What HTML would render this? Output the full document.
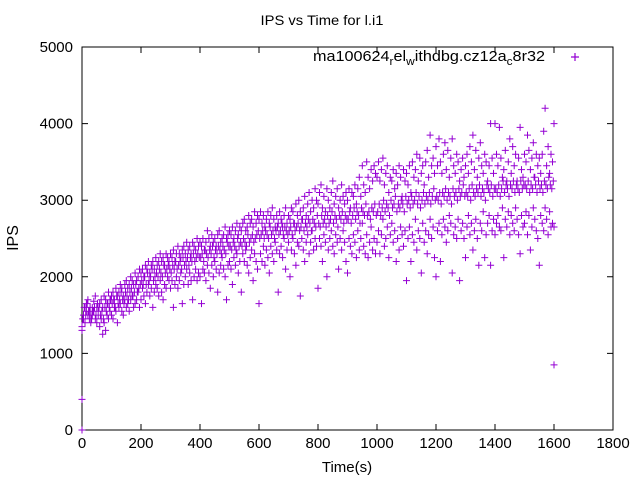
<!DOCTYPE html>
<html><head><meta charset="utf-8"><style>
body{margin:0;background:#fff;}
svg{display:block;font-family:"Liberation Sans",sans-serif;}
</style></head><body>
<svg id="chart" width="640" height="480" viewBox="0 0 640 480" xmlns="http://www.w3.org/2000/svg">
<rect width="640" height="480" fill="#fff"/>
<text x="322" y="25" text-anchor="middle" font-size="14" textLength="123" lengthAdjust="spacingAndGlyphs">IPS vs Time for l.i1</text>
<text transform="translate(18,238) rotate(-90)" text-anchor="middle" font-size="16">IPS</text>
<text x="347" y="472" text-anchor="middle" font-size="15">Time(s)</text>
<g id="axes"></g>
<g id="points"></g>
<g>
<text x="313" y="61" font-size="15" textLength="232" lengthAdjust="spacingAndGlyphs">ma100624<tspan font-size="11" dy="4">r</tspan><tspan dy="-4">el</tspan><tspan font-size="11" dy="4">w</tspan><tspan dy="-4">ithdbg.cz12a</tspan><tspan font-size="11" dy="4">c</tspan><tspan dy="-4">8r32</tspan></text>
<path d="M571,57h8M575,53v8" stroke="#9400d3" stroke-width="1.2"/>
</g>
</svg>
<script>
const xTicks=[0,200,400,600,800,1000,1200,1400,1600,1800];
const yTicks=[0,1000,2000,3000,4000,5000];
const sampleStep=5;
const ipsUpper=[1300,1450,1600,1650,1700,1550,1500,1600,1680,1750,1600,1550,1650,1700,1600,1750,1700,1650,1800,1700,
1750,1800,1700,1850,1750,1800,1900,1850,1750,1900,1950,1850,1900,2000,1950,1900,2050,1950,2000,2100,
2050,2100,2000,2150,2100,2200,2050,2150,2200,2100,2250,2150,2200,2300,2200,2250,2150,2300,2250,2200,
2300,2250,2350,2200,2300,2400,2300,2250,2350,2400,2300,2450,2350,2400,2300,2450,2400,2350,2500,2400,
2450,2400,2500,2350,2450,2600,2500,2400,2550,2450,2500,2400,2550,2600,2450,2500,2550,2650,2500,2550,
2600,2550,2650,2500,2600,2700,2550,2650,2600,2700,2750,2600,2650,2800,2700,2750,2650,2850,2700,2800,
2750,2850,2700,2800,2650,2750,2850,2700,2800,2900,2750,2650,2800,2700,2850,2750,2650,2800,2900,2700,
2800,2750,2900,2850,2700,2950,2800,3000,2850,2750,2900,3050,2800,2950,3100,2850,3000,2900,3150,3000,
2950,3100,3200,2900,3050,2850,3150,3000,2900,3100,3250,2950,3050,3150,2900,3000,3200,3050,2950,3100,
3000,3150,2900,3100,3050,3200,2950,3150,3300,3050,3450,3200,3100,3500,3300,3150,3400,3250,3450,3350,
3300,3500,3250,3400,3550,3200,3350,3450,3100,3300,3250,3400,3150,3350,3200,3450,3300,3050,3400,3250,
3350,3200,3450,3100,3500,3300,3400,3600,3250,3550,3350,3450,3200,3500,3650,3300,3850,3450,3550,3350,
3700,3450,3800,3500,3350,3600,3750,3400,3650,3300,3550,3800,3450,3350,3600,3500,3250,3400,3550,3300,
3450,3600,3350,3700,3500,3850,3400,3650,3300,3550,3750,3450,3350,3600,3500,3250,3450,4000,3550,3350,
4000,3600,3450,3950,3550,3300,3400,3650,3250,3500,3800,3350,3700,3450,3600,3250,3550,3950,3400,3300,
3600,3500,3850,3650,3400,3550,3750,3300,3600,3450,3550,3350,3600,3900,4200,3450,3700,3350,3600,3500,
4000];
const ipsLower=[1350,1500,1400,1550,1500,1450,1400,1500,1550,1450,1400,1500,1350,1450,1250,1400,1300,1500,1450,1550,
1500,1450,1600,1550,1400,1600,1650,1550,1500,1700,1600,1650,1550,1700,1750,1600,1650,1700,1800,1600,
1700,1850,1750,1650,1800,1900,1750,1850,1600,1800,1900,1850,1750,1950,1800,1700,1900,1850,2000,1950,
1850,1950,1600,1900,2000,1850,1950,2050,1650,1900,2000,2100,1900,2050,1950,1700,2000,2100,1950,2050,
2000,1650,2100,2050,1950,2150,2050,1850,2150,2000,2200,2100,1800,2050,2150,2250,2100,2000,1700,2150,
2200,2100,1900,2250,2150,2300,2050,2200,1800,2300,2200,2350,2150,2050,2250,2350,1950,2300,2200,2100,
1650,2300,2200,2400,2150,2350,2250,2050,2400,2300,2200,2450,2350,1800,2300,2400,2250,2500,2100,2350,
2450,2000,2350,2500,2300,2150,2450,2400,1750,2500,2350,2200,2450,2550,2300,2450,2600,2350,2500,2400,
1850,2500,2400,2200,2550,2450,2000,2350,2500,2600,2400,2300,2550,2450,2100,2500,2350,2600,2450,2200,
2050,2500,2400,2300,2550,2450,2250,2600,2350,2500,2700,2400,2300,2550,2250,2450,2650,2350,2500,2300,
2450,2600,2300,2550,2750,2400,2500,2650,2250,2550,2700,2450,2600,2200,2500,2350,2650,2550,2400,2600,
1950,2500,2650,2200,2550,2450,2750,2350,2600,2500,2050,2700,2450,2600,2300,2550,2750,2500,2650,2250,
2000,2600,2700,2200,2550,2750,2650,2450,2600,2800,2700,2050,2550,2650,2500,2750,1950,2600,2700,2500,
2250,2650,2800,2550,2700,2350,2600,2750,2500,2150,2700,2600,2850,2250,2550,2700,2800,2150,2600,2750,
2550,2700,2800,2650,2600,2900,2250,2750,2650,2850,2550,2800,2700,2600,2900,2750,2550,2300,2800,2650,
2700,2850,2550,2800,2350,2650,2900,2750,2600,2500,2150,2800,2700,2600,2900,2750,2550,2850,2650,2700,
2650];
const ipsMiddle=[1450,1600,1500,1650,1550,1600,1450,1550,1600,1500,1650,1600,1500,1550,1450,1600,1550,1650,1600,1700,
1650,1700,1600,1750,1650,1700,1800,1700,1650,1800,1750,1700,1800,1850,1750,1800,1900,1800,1850,1900,
1950,1900,2000,1900,2050,1950,2000,2100,1950,2000,2050,2000,2100,2050,2000,2150,2050,2100,2150,2100,
2050,2150,2100,2200,2100,2150,2200,2100,2250,2150,2200,2250,2150,2250,2200,2300,2200,2250,2300,2250,
2250,2300,2200,2350,2300,2250,2350,2300,2400,2250,2350,2300,2400,2350,2300,2400,2350,2300,2450,2400,
2400,2350,2450,2400,2350,2500,2400,2450,2400,2500,2450,2400,2550,2450,2500,2550,2450,2500,2550,2600,
2500,2550,2600,2500,2600,2550,2500,2650,2550,2600,2500,2600,2650,2550,2600,2700,2550,2650,2600,2550,
2600,2650,2550,2700,2600,2650,2700,2600,2650,2750,2600,2700,2650,2750,2700,2600,2750,2700,2650,2800,
2700,2650,2800,2700,2750,2650,2800,2700,2750,2850,2700,2800,2750,2650,2800,2750,2850,2700,2800,2750,
2750,2850,2700,2800,2900,2750,2850,2800,2700,2900,2850,2800,2950,2800,2850,2750,2900,2850,2950,2800,
2850,2950,2800,2900,3000,2850,2950,2900,2800,3000,2900,2950,3050,2850,2950,2900,3000,2950,2850,3050,
2950,3000,2900,3050,2950,3000,3100,2950,3050,2900,3000,3100,2950,3050,3000,3100,2950,3050,3150,3000,
3050,3000,3100,2950,3100,3050,3150,3000,3100,3050,2950,3150,3050,3100,3000,3150,3050,3100,3200,3050,
3100,3050,3150,3000,3200,3100,3050,3150,3100,3200,3050,3150,3100,3000,3200,3150,3100,3200,3050,3150,
3150,3100,3200,3050,3150,3250,3100,3200,3150,3050,3200,3150,3250,3100,3200,3150,3100,3250,3150,3200,
3200,3150,3250,3100,3200,3150,3300,3200,3100,3250,3150,3200,3100,3250,3200,3150,3300,3200,3150,3250];
const outlierTimes=[0,0,1600];
const outlierIps=[0,400,850];

const L=82,R=613,T=47,B=430,XMAX=1800,YMAX=5000;
const NS='http://www.w3.org/2000/svg';
function sx(v){return L+(v/XMAX)*(R-L);}
function sy(v){return B-(v/YMAX)*(B-T);}
const axes=document.getElementById('axes');
function mk(tag,attrs,parent){const e=document.createElementNS(NS,tag);for(const k in attrs)e.setAttribute(k,attrs[k]);parent.appendChild(e);return e;}
const frame=mk('rect',{x:L,y:T,width:R-L,height:B-T,fill:'none',stroke:'#000','stroke-width':1},axes);


xTicks.forEach(v=>{
  const x=sx(v);
  const t=mk('path',{d:`M${x},${B}v-6M${x},${T}v6`,stroke:'#000','stroke-width':1},axes);
  
  
  const l=mk('text',{x:x,y:B+18,'text-anchor':'middle','font-size':15},axes);
  l.textContent=v;
  
  
});
yTicks.forEach(v=>{
  const y=sy(v);
  const t=mk('path',{d:`M${L},${y}h6M${R},${y}h-6`,stroke:'#000','stroke-width':1},axes);
  
  
  const l=mk('text',{x:L-9,y:y+5,'text-anchor':'end','font-size':15},axes);
  l.textContent=v;
  
  
});
const pts=document.getElementById('points');
let d='';
function addPt(t,v){const x=sx(t),y=sy(v);d+=`M${(x-3.5).toFixed(1)},${y.toFixed(1)}h7M${x.toFixed(1)},${(y-3.5).toFixed(1)}v7`;}
ipsUpper.forEach((v,i)=>addPt(i*sampleStep,v));
ipsLower.forEach((v,i)=>addPt(i*sampleStep,v));
ipsMiddle.forEach((v,i)=>addPt(i*sampleStep+sampleStep/2,v));
outlierTimes.forEach((t,i)=>addPt(t,outlierIps[i]));
const p=mk('path',{d:d,stroke:'#9400d3','stroke-width':1,fill:'none'},pts);


</script>
</body></html>
